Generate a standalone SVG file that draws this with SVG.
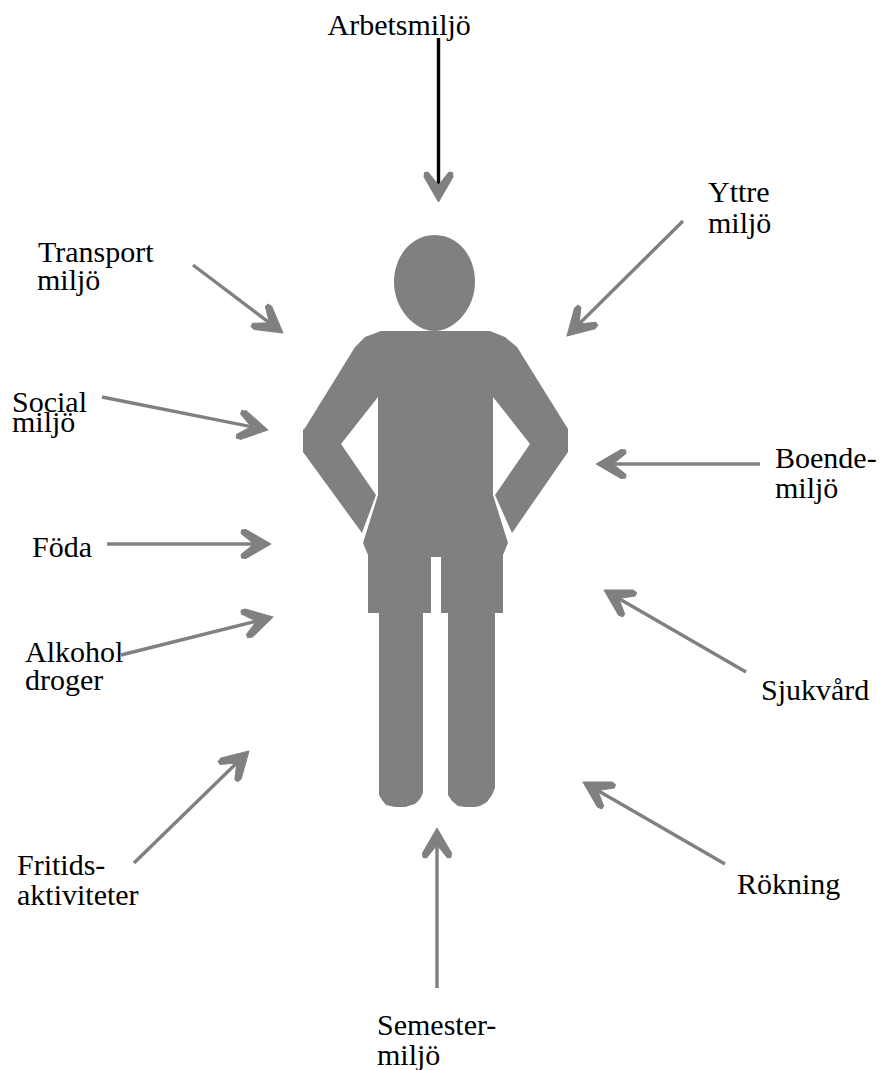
<svg xmlns="http://www.w3.org/2000/svg" width="881" height="1070" viewBox="0 0 881 1070">
<style>
text{font-family:"Liberation Serif","Times New Roman",serif;font-size:30px;fill:#000}
.c{fill:none;stroke:#808080;stroke-width:3.4;marker-end:url(#ah)}
.b{stroke:#000}
.f{fill:#808080}
</style>
<defs>
<marker id="ah" markerUnits="userSpaceOnUse" markerWidth="34" markerHeight="34" viewBox="-31 -17 34 34" refX="-12" refY="0" orient="auto" overflow="visible">
<polygon points="0,0 -25,-14.5 -29.5,-14 -30,-10.5 -17,0 -30,10.5 -29.5,14 -25,14.5" fill="#808080" stroke="#808080" stroke-width="1" stroke-linejoin="round"/>
</marker>
</defs>
<rect width="881" height="1070" fill="#fff"/>
<g id="person">
<path class="f" d="M434.5,235C460,235 475,258 475,282C475,308 455,331 434.5,331C414,331 394,308 394,282C394,258 410,235 434.5,235Z"/>
<polygon class="f" points="381,331 490,331 505,337 517,347 568,429 568,452 512,533 495,495 530,444 493,397 493,495 508,543 503,555 503,613 495,613 495,788 492,795 487,802 480,806 475,807 465,807 458,806 452,801 448,795 448,613 441,613 441,557 431,557 431,613 423,613 423,793 420,799 415,804 405,807 395,807 386,805 382,800 379,795 379,613 368,613 368,555 363,543 378,495 378,397 341,444 376,495 362,533 303,452 303,430 305,428 355,347 365,337"/>
</g>
<g id="connectors">
<path class="c b" d="M438.5,38V190"/>
<path class="c" d="M193,265L273.4,325.8"/>
<path class="c" d="M102,397L256.2,427.7"/>
<path class="c" d="M107,544H259"/>
<path class="c" d="M121,655L261.4,619.9"/>
<path class="c" d="M134,863L240.4,759.4"/>
<path class="c" d="M437,988V840"/>
<path class="c" d="M725,864L593.4,788"/>
<path class="c" d="M746,672L614.4,596"/>
<path class="c" d="M760,464H608"/>
<path class="c" d="M683,221L575.5,327.5"/>
</g>
<g id="arbetsmiljo"><text x="327.5" y="35">Arbetsmiljö</text></g>
<g id="transport"><text x="38" y="262">Transport</text><text x="37" y="290">miljö</text></g>
<g id="social"><text x="12" y="412">Social</text><text x="12" y="432">miljö</text></g>
<g id="foda"><text x="32" y="557">Föda</text></g>
<g id="alkohol"><text x="25" y="662">Alkohol</text><text x="25" y="690">droger</text></g>
<g id="fritids"><text x="17" y="875">Fritids-</text><text x="17" y="905">aktiviteter</text></g>
<g id="semester"><text x="377" y="1035">Semester-</text><text x="377" y="1065">miljö</text></g>
<g id="rokning"><text x="737" y="894">Rökning</text></g>
<g id="sjukvard"><text x="761" y="700">Sjukvård</text></g>
<g id="boende"><text x="775" y="468">Boende-</text><text x="775" y="498">miljö</text></g>
<g id="yttre"><text x="708" y="202">Yttre</text><text x="708" y="233">miljö</text></g>
</svg>
